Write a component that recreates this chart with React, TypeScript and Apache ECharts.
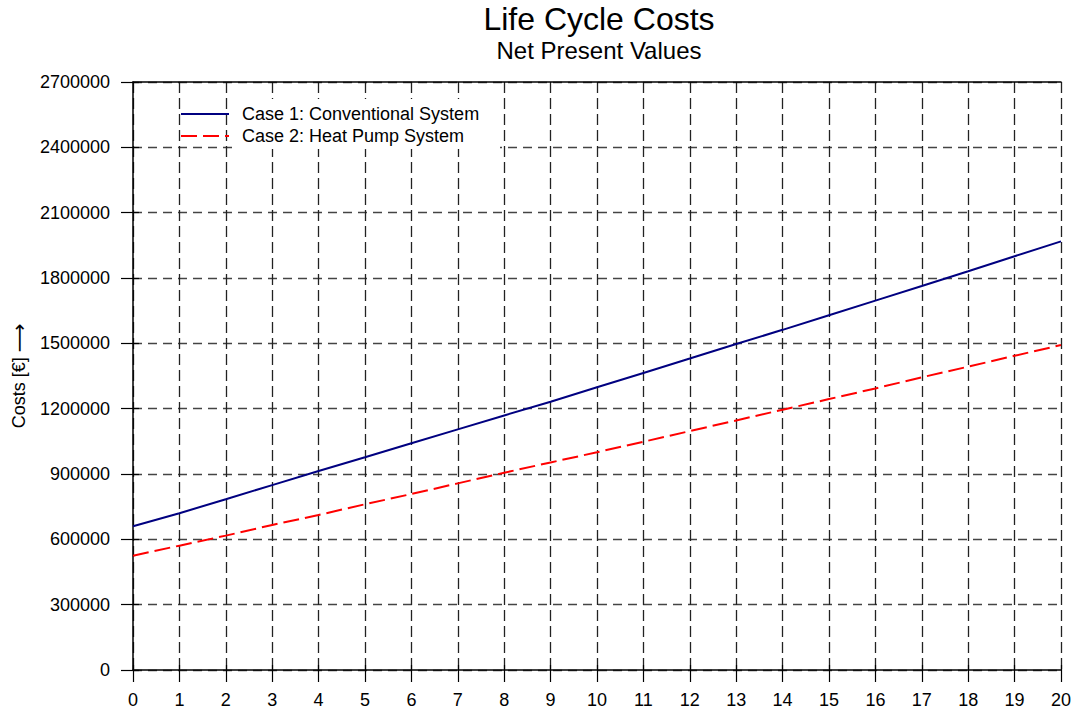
import React, { useEffect, useRef } from "react";
import * as echarts from "echarts";

const years = [0, 1, 2, 3, 4, 5, 6, 7, 8, 9, 10, 11, 12, 13, 14, 15, 16, 17, 18, 19, 20];
const case1Values = [660000, 720000, 784000, 849000, 914000, 977000, 1041000, 1105000, 1169000, 1232000, 1298000, 1364000, 1430000, 1497000, 1562000, 1629000, 1696000, 1763000, 1831000, 1900000, 1968000];
const case2Values = [525000, 571000, 617000, 666000, 712000, 761000, 808000, 857000, 906000, 953000, 1000000, 1048000, 1097000, 1146000, 1195000, 1244000, 1293000, 1344000, 1393000, 1443000, 1492000];
const seriesNames = ["Case 1: Conventional System", "Case 2: Heat Pump System"];
const titleText = "Life Cycle Costs";
const subtitleText = "Net Present Values";
const yAxisName = "Costs [€]";

const FONT = "'Liberation Sans', Arial, sans-serif";

export default function App() {
  const ref = useRef<HTMLDivElement>(null);
  useEffect(() => {
    if (!ref.current) return;
    const chart = echarts.init(ref.current, undefined, { renderer: "svg" });
    const grid = { left: 133, right: 14, top: 82, bottom: 40, outerBoundsMode: "none", containLabel: false };
    chart.setOption({
      animation: false,
      backgroundColor: "#ffffff",
      textStyle: { fontFamily: FONT },
      title: {
        text: titleText,
        subtext: subtitleText,
        left: 599,
        top: 3,
        padding: 0,
        textAlign: "center",
        itemGap: 3,
        textStyle: { fontFamily: FONT, fontSize: 32, fontWeight: "normal", color: "#000" },
        subtextStyle: { fontFamily: FONT, fontSize: 24, color: "#000" },
      },
      grid,
      legend: {
        orient: "vertical",
        left: 180,
        top: 105,
        padding: 0,
        itemWidth: 48,
        itemHeight: 14,
        itemGap: 4,
        data: seriesNames,
        itemStyle: { opacity: 0 },
        textStyle: { fontFamily: FONT, fontSize: 18, color: "#000", padding: [0, 0, 0, 8] },
        z: 5,
      },
      graphic: [
        {
          type: "rect",
          shape: { x: 232, y: 99, width: 268, height: 50 },
          style: { fill: "#ffffff" },
          z: 1,
          silent: true,
        },
      ],
      xAxis: [
        {
          type: "value",
          min: 0,
          max: 20,
          interval: 1,
          position: "bottom",
          axisLine: { show: true, lineStyle: { color: "#000", width: 1.5 } },
          axisTick: { show: true, inside: false, length: 12, lineStyle: { color: "#000", width: 1.2 } },
          axisLabel: { fontFamily: FONT, fontSize: 18, color: "#000", margin: 21 },
          splitLine: { show: true, lineStyle: { color: "#222", width: 1.3, type: [11, 5] } },
        },
        {
          type: "value",
          min: 0,
          max: 20,
          interval: 1,
          position: "bottom",
          axisLine: { show: false },
          axisTick: { show: true, inside: true, length: 5, lineStyle: { color: "#000", width: 1.2 } },
          axisLabel: { show: false },
          splitLine: { show: false },
        },
        {
          type: "value",
          min: 0,
          max: 20,
          interval: 1,
          position: "top",
          axisLine: { show: true, lineStyle: { color: "#000", width: 1.5 } },
          axisTick: { show: false },
          axisLabel: { show: false },
          splitLine: { show: false },
        },
      ],
      yAxis: [
        {
          type: "value",
          min: 0,
          max: 2700000,
          interval: 300000,
          name: yAxisName + " {a|\u27F6}",
          nameLocation: "middle",
          nameRotate: 90,
          nameGap: 96,
          nameTextStyle: {
            fontFamily: FONT,
            fontSize: 18,
            color: "#000",
            rich: { a: { fontFamily: "'DejaVu Sans', sans-serif", fontSize: 20, color: "#000" } },
          },
          axisLine: { show: true, lineStyle: { color: "#000", width: 1.5 } },
          axisTick: { show: true, inside: false, length: 12, lineStyle: { color: "#000", width: 1.2 } },
          axisLabel: {
            fontFamily: FONT,
            fontSize: 18,
            color: "#000",
            margin: 23,
            formatter: (v: number) => String(v),
          },
          splitLine: { show: true, lineStyle: { color: "#444", width: 1.3, type: [9, 6] } },
        },
        {
          type: "value",
          min: 0,
          max: 2700000,
          interval: 300000,
          position: "left",
          axisLine: { show: false },
          axisTick: { show: true, inside: true, length: 6, lineStyle: { color: "#000", width: 1.2 } },
          axisLabel: { show: false },
          splitLine: { show: false },
        },
      ],
      series: [
        {
          name: seriesNames[0],
          type: "line",
          xAxisIndex: 0,
          yAxisIndex: 0,
          data: years.map((y, i) => [y, case1Values[i]]),
          symbol: "none",
          lineStyle: { color: "#000080", width: 2 },
          itemStyle: { color: "#000080" },
          z: 3,
        },
        {
          name: seriesNames[1],
          type: "line",
          xAxisIndex: 0,
          yAxisIndex: 0,
          data: years.map((y, i) => [y, case2Values[i]]),
          symbol: "none",
          lineStyle: { color: "#ff0000", width: 2, type: [16, 6] },
          itemStyle: { color: "#ff0000" },
          z: 3,
        },
      ],
    });
    return () => chart.dispose();
  }, []);
  return (
    <div
      ref={ref}
      style={{ position: "absolute", left: 0, top: 0, width: 1075, height: 710 }}
    />
  );
}
